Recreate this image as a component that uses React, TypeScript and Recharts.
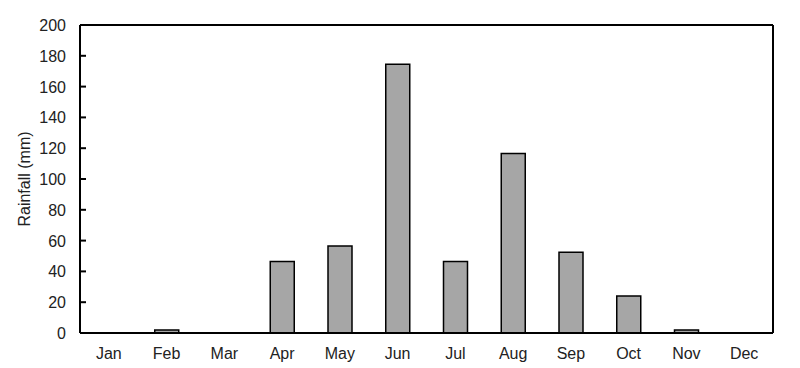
import { Bar, BarChart, XAxis, YAxis } from "recharts";

const months = ["Jan", "Feb", "Mar", "Apr", "May", "Jun", "Jul", "Aug", "Sep", "Oct", "Nov", "Dec"];
const rainfall = [0, 2, 0, 46.5, 56.5, 174.5, 46.5, 116.5, 52.5, 24, 2, 0];
const yTicks = [0, 20, 40, 60, 80, 100, 120, 140, 160, 180, 200];

const data = months.map((m, i) => ({ month: m, rain: rainfall[i] }));

const FONT = "'Liberation Sans', Arial, sans-serif";
const MARGIN_LEFT = 30;
const Y_WIDTH = 50;
const AXIS_X = MARGIN_LEFT + Y_WIDTH;

// tick marks point inward, into the plot
function InwardTick(props: any) {
  const { y, payload } = props;
  return (
    <g>
      <line x1={AXIS_X} x2={AXIS_X + 6} y1={y} y2={y} stroke="#000" strokeWidth={2} />
      <text x={AXIS_X - 14} y={y} dy={6} textAnchor="end" fontSize={16} fill="#222" fontFamily={FONT}>
        {payload.value}
      </text>
    </g>
  );
}

export default function App() {
  return (
    <div style={{ position: "absolute", left: 0, top: 0, background: "#fff" }}>
      <BarChart
        width={800}
        height={368}
        data={data}
        margin={{ top: 24, right: 26, left: MARGIN_LEFT, bottom: 8 }}
        barCategoryGap={0}
      >
        <XAxis
          dataKey="month"
          xAxisId="bottom"
          axisLine={{ stroke: "#000", strokeWidth: 2 }}
          tickLine={false}
          tickMargin={9}
          height={27}
          tick={{ fontSize: 16, fill: "#222", fontFamily: FONT }}
        />
        <XAxis
          dataKey="month"
          xAxisId="top"
          orientation="top"
          height={1}
          axisLine={{ stroke: "#000", strokeWidth: 2 }}
          tick={false}
          tickLine={false}
        />
        <YAxis
          yAxisId="left"
          domain={[0, 200]}
          ticks={yTicks}
          width={Y_WIDTH}
          axisLine={{ stroke: "#000", strokeWidth: 2 }}
          tickLine={false}
          tick={<InwardTick />}
          label={{
            value: "Rainfall (mm)",
            angle: -90,
            position: "insideLeft",
            offset: -6,
            style: { textAnchor: "middle", fontSize: 16, fill: "#222", fontFamily: FONT },
          }}
        />
        <YAxis
          yAxisId="right"
          orientation="right"
          domain={[0, 200]}
          width={1}
          axisLine={{ stroke: "#000", strokeWidth: 2 }}
          tick={false}
          tickLine={false}
        />
        <Bar
          dataKey="rain"
          xAxisId="bottom"
          yAxisId="left"
          barSize={24}
          fill="#a6a6a6"
          stroke="#000"
          strokeWidth={1.5}
          isAnimationActive={false}
        />
      </BarChart>
    </div>
  );
}
